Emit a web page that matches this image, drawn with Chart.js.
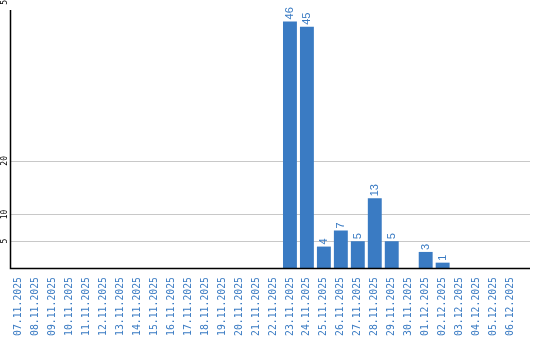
<!DOCTYPE html>
<html lang="de">
<head>
  <meta charset="UTF-8" />
  <title>Tageswerte</title>
  <script src="https://cdn.jsdelivr.net/npm/chart.js"></script>
  <style>
    * { margin: 0; padding: 0; box-sizing: border-box; }
    body { background: #fff; width: 540px; height: 340px; overflow: hidden; }
    .wrap { position: relative; width: 540px; height: 340px; overflow: hidden; }
  </style>
</head>
<body>
<div class="wrap"><canvas id="chart" width="540" height="346"></canvas></div>
<script>
const days = [
  "07.11.2025","08.11.2025","09.11.2025","10.11.2025","11.11.2025","12.11.2025",
  "13.11.2025","14.11.2025","15.11.2025","16.11.2025","17.11.2025","18.11.2025",
  "19.11.2025","20.11.2025","21.11.2025","22.11.2025","23.11.2025","24.11.2025",
  "25.11.2025","26.11.2025","27.11.2025","28.11.2025","29.11.2025","30.11.2025",
  "01.12.2025","02.12.2025","03.12.2025","04.12.2025","05.12.2025","06.12.2025"
];
const counts = [
  0, 0, 0, 0, 0, 0,
  0, 0, 0, 0, 0, 0,
  0, 0, 0, 0, 46, 45,
  4, 7, 5, 13, 5, 0,
  3, 1, 0, 0, 0, 0
];
const yTicks = [5, 10, 20, 50];

const blue = "#3a7bc3";

// gridlines, axis lines, y labels and value labels drawn by hand
const decor = {
  id: "decor",
  beforeDatasetsDraw(chart) {
    const { ctx, chartArea, scales } = chart;
    const y = scales.y;
    const right = 530;
    ctx.save();
    ctx.strokeStyle = "#c8c8c8";
    ctx.lineWidth = 1;
    yTicks.forEach(v => {
      const py = Math.round(y.getPixelForValue(v)) + 0.5;
      if (py < 5) return; // top tick: only its label peeks in
      ctx.beginPath();
      ctx.moveTo(chartArea.left, py);
      ctx.lineTo(right, py);
      ctx.stroke();
    });
    ctx.fillStyle = "#000";
    ctx.font = "8px 'DejaVu Sans Mono', monospace";
    ctx.textAlign = "center";
    ctx.textBaseline = "middle";
    yTicks.forEach(v => {
      const py = y.getPixelForValue(v);
      ctx.save();
      ctx.translate(5, py);
      ctx.rotate(-Math.PI / 2);
      ctx.fillText(String(v), 0, 0);
      ctx.restore();
    });
    ctx.restore();
  },
  afterDatasetsDraw(chart) {
    const { ctx, chartArea, scales } = chart;
    const base = Math.round(scales.y.getPixelForValue(0)) + 0.5;
    ctx.save();
    ctx.strokeStyle = "#000";
    ctx.lineWidth = 1.5;
    ctx.beginPath();
    ctx.moveTo(chartArea.left + 0.5, 10);
    ctx.lineTo(chartArea.left + 0.5, base);
    ctx.lineTo(530, base);
    ctx.stroke();

    const meta = chart.getDatasetMeta(0);
    ctx.fillStyle = blue;
    ctx.font = "11px 'Liberation Sans', Arial, sans-serif";
    ctx.textAlign = "left";
    ctx.textBaseline = "middle";
    meta.data.forEach((bar, i) => {
      if (!counts[i]) return;
      ctx.save();
      ctx.translate(bar.x, bar.y - 2);
      ctx.rotate(-Math.PI / 2);
      ctx.fillText(String(counts[i]), 0, 0);
      ctx.restore();
    });
    ctx.restore();
  }
};

new Chart(document.getElementById("chart"), {
  type: "bar",
  data: {
    labels: days,
    datasets: [{
      data: counts,
      backgroundColor: blue,
      borderWidth: 0,
      categoryPercentage: 1,
      barPercentage: 0.82
    }]
  },
  options: {
    responsive: false,
    animation: false,
    layout: { padding: { left: 10, right: 21, top: 0, bottom: 1 } },
    plugins: { legend: { display: false }, tooltip: { enabled: false } },
    scales: {
      x: {
        grid: { display: false, drawTicks: false },
        border: { display: false },
        ticks: {
          color: blue,
          font: { family: "'DejaVu Sans Mono', monospace", size: 9.8 },
          minRotation: 90,
          maxRotation: 90,
          autoSkip: false,
          padding: 9
        }
      },
      y: {
        min: 0,
        max: 50,
        grid: { display: false, drawTicks: false },
        border: { display: false },
        ticks: { display: false }
      }
    }
  },
  plugins: [decor]
});
</script>
</body>
</html>
